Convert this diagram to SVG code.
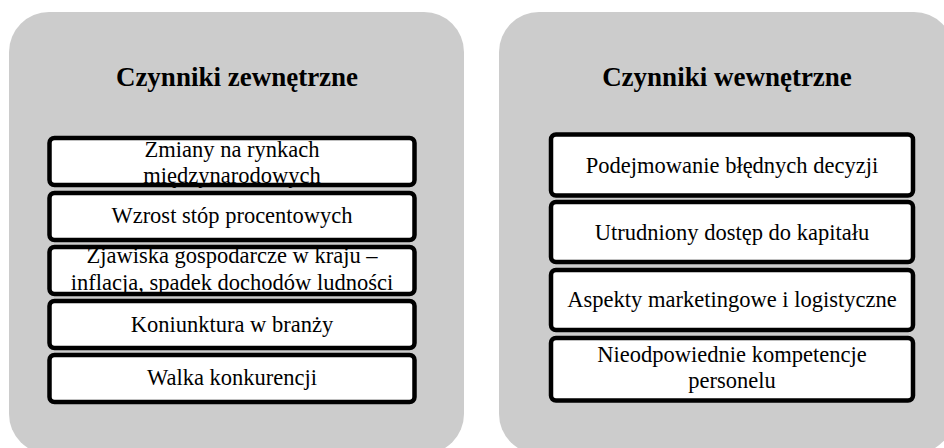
<svg xmlns="http://www.w3.org/2000/svg" width="944" height="448" viewBox="0 0 944 448">
<style>
.panel{fill:#cccccc;}
.box{fill:#ffffff;stroke:#000000;stroke-width:4.5;}
.title{font-family:"Liberation Serif","Times New Roman",serif;font-weight:bold;font-size:27px;fill:#000;text-anchor:middle;}
.lbl{font-family:"Liberation Serif","Times New Roman",serif;font-size:22.5px;fill:#000;text-anchor:middle;}
</style>
<rect width="944" height="448" fill="#ffffff"/>
<g id="panel-external">
<rect class="panel" x="9" y="12" width="455" height="442" rx="40" ry="40"/>
<text class="title" x="237" y="86">Czynniki zewnętrzne</text>
</g>
<g id="panel-internal">
<rect class="panel" x="499" y="12" width="455" height="442" rx="40" ry="40"/>
<text class="title" x="727" y="86">Czynniki wewnętrzne</text>
</g>
<g id="connectors"></g>
<g id="ext1">
<rect class="box" x="49.5" y="138" width="365" height="47" rx="5"/>
<text class="lbl" x="232" y="157">Zmiany na rynkach</text>
<text class="lbl" x="232" y="183">międzynarodowych</text>
</g>
<g id="ext2">
<rect class="box" x="49.5" y="193" width="365" height="47" rx="5"/>
<text class="lbl" x="232" y="223">Wzrost stóp procentowych</text>
</g>
<g id="ext3">
<rect class="box" x="49.5" y="247" width="365" height="47" rx="5"/>
<text class="lbl" x="232" y="263">Zjawiska gospodarcze w kraju –</text>
<text class="lbl" x="232" y="290">inflacja, spadek dochodów ludności</text>
</g>
<g id="ext4">
<rect class="box" x="49.5" y="301" width="365" height="47" rx="5"/>
<text class="lbl" x="232" y="332">Koniunktura w branży</text>
</g>
<g id="ext5">
<rect class="box" x="49.5" y="355" width="365" height="47" rx="5"/>
<text class="lbl" x="232" y="385">Walka konkurencji</text>
</g>
<g id="int1">
<rect class="box" x="551" y="134.5" width="362" height="61" rx="5"/>
<text class="lbl" x="732" y="173">Podejmowanie błędnych decyzji</text>
</g>
<g id="int2">
<rect class="box" x="551" y="202" width="362" height="60" rx="5"/>
<text class="lbl" x="732" y="240">Utrudniony dostęp do kapitału</text>
</g>
<g id="int3">
<rect class="box" x="551" y="270" width="362" height="60" rx="5"/>
<text class="lbl" x="732" y="307">Aspekty marketingowe i logistyczne</text>
</g>
<g id="int4">
<rect class="box" x="551" y="338" width="362" height="62.5" rx="5"/>
<text class="lbl" x="732" y="362">Nieodpowiednie kompetencje</text>
<text class="lbl" x="732" y="388">personelu</text>
</g>
</svg>
